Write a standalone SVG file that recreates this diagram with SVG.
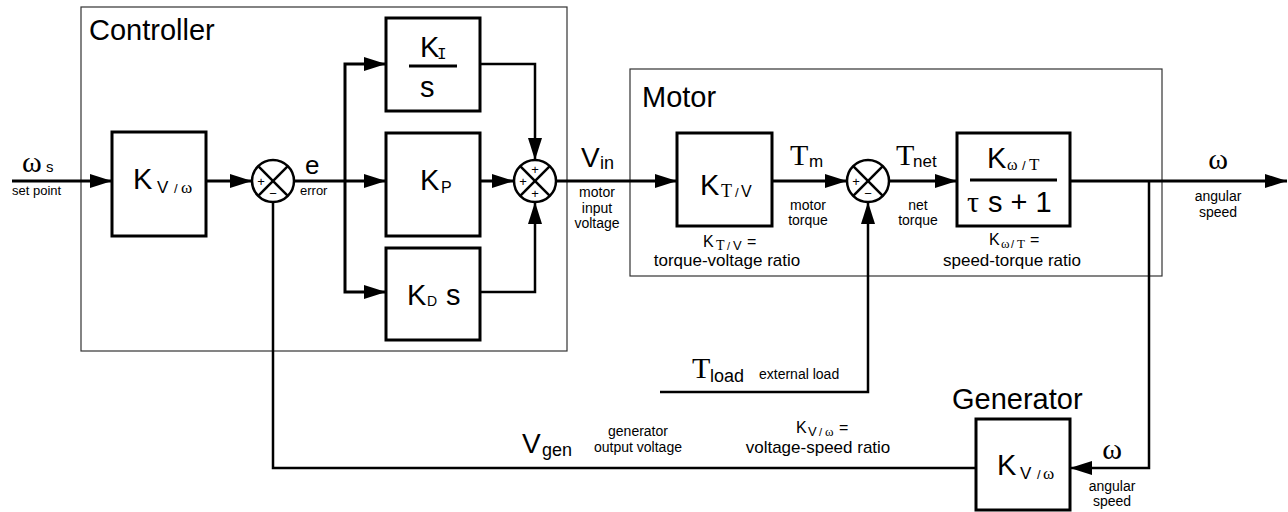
<svg xmlns="http://www.w3.org/2000/svg" width="1288" height="512" viewBox="0 0 1288 512">
<defs>
<style>
text{font-family:"Liberation Sans",Arial,sans-serif;fill:#000}
.ser{font-family:"Liberation Serif","Times New Roman",serif}
.mono{font-family:"Liberation Mono","Courier New",monospace}
.title{font-size:29px}
.big{font-size:29px}
.sm{font-size:14px}
.xs{font-size:13px}
.mid{font-size:17px}
.blk{fill:#fff;stroke:#000;stroke-width:3}
.cont{fill:none;stroke:#333;stroke-width:1.2}
.sum{fill:#fff;stroke:#000;stroke-width:2.5}
.x{stroke:#000;stroke-width:2.5}
.w{fill:none;stroke:#000;stroke-width:3}
.w2{fill:none;stroke:#000;stroke-width:2.5}
.mid-t{text-anchor:middle}
</style>
<marker id="ah" markerUnits="userSpaceOnUse" markerWidth="22" markerHeight="14" refX="22" refY="7" orient="auto">
<path d="M0,0 L22,7 L0,14 z" fill="#000"/>
</marker>
</defs>

<g id="controller">
<rect class="cont" x="81" y="7" width="486" height="344"/>
<text class="title" x="89" y="40">Controller</text>
</g>
<g id="motor">
<rect class="cont" x="630" y="69" width="532" height="207"/>
<text class="title" x="642" y="107">Motor</text>
</g>

<g id="connectors">
<path class="w" d="M12,181 H112" marker-end="url(#ah)"/>
<path class="w" d="M206,181 H252" marker-end="url(#ah)"/>
<path class="w" d="M294,181 H386" marker-end="url(#ah)"/>
<path class="w" d="M345,181 V64 H386" marker-end="url(#ah)"/>
<path class="w" d="M345,181 V292 H386" marker-end="url(#ah)"/>
<path class="w2" d="M480,64 H535 V160" marker-end="url(#ah)"/>
<path class="w" d="M480,181 H514" marker-end="url(#ah)"/>
<path class="w2" d="M480,292 H535 V202" marker-end="url(#ah)"/>
<path class="w" d="M556,181 H677" marker-end="url(#ah)"/>
<path class="w" d="M772,181 H847" marker-end="url(#ah)"/>
<path class="w" d="M889,181 H957" marker-end="url(#ah)"/>
<path class="w" d="M1070,181 H1287" marker-end="url(#ah)"/>
<path class="w2" d="M1149,181 V468 H1070" marker-end="url(#ah)"/>
<path class="w2" d="M976,468 H273 V202"/>
<path class="w2" d="M660,392 H868 V202" marker-end="url(#ah)"/>
</g>

<g id="kv-controller">
<rect class="blk" x="112" y="132" width="94" height="104"/>
<text class="big" x="133" y="189">K</text>
<text x="157" y="193" font-size="17">V</text>
<text x="174" y="193" font-size="13">/</text>
<text class="ser" x="181" y="193" font-size="17">ω</text>
</g>

<g id="sum1">
<circle class="sum" cx="273" cy="181" r="21"/>
<line class="x" x1="258.2" y1="166.2" x2="287.8" y2="195.8"/>
<line class="x" x1="287.8" y1="166.2" x2="258.2" y2="195.8"/>
<text class="xs mid-t" x="261" y="186">+</text>
<text class="xs mid-t" x="273" y="198">−</text>
</g>

<g id="ki">
<rect class="blk" x="386" y="18" width="94" height="93"/>
<text class="big" x="420" y="57">K</text>
<text class="mono" x="437" y="59" font-size="16">I</text>
<line x1="409" y1="66" x2="457" y2="66" stroke="#000" stroke-width="3"/>
<text class="big" x="420" y="97">s</text>
</g>

<g id="kp">
<rect class="blk" x="386" y="133" width="94" height="103"/>
<text class="big" x="420" y="190">K</text>
<text x="441" y="193" font-size="16">P</text>
</g>

<g id="kd">
<rect class="blk" x="386" y="248" width="94" height="92"/>
<text class="big" x="407" y="305">K</text>
<text x="427" y="306" font-size="14">D</text>
<text class="big" x="446" y="305">s</text>
</g>

<g id="sum2">
<circle class="sum" cx="535" cy="181" r="21"/>
<line class="x" x1="520.2" y1="166.2" x2="549.8" y2="195.8"/>
<line class="x" x1="549.8" y1="166.2" x2="520.2" y2="195.8"/>
<text class="xs mid-t" x="535" y="174">+</text>
<text class="xs mid-t" x="523" y="186">+</text>
<text class="xs mid-t" x="535" y="198">+</text>
</g>

<g id="ktv">
<rect class="blk" x="677" y="133" width="95" height="93"/>
<text class="big" x="700" y="195">K</text>
<text class="ser" x="721" y="197" font-size="18">T</text>
<text x="735" y="197" font-size="13">/</text>
<text x="741" y="197" font-size="16">V</text>
</g>

<g id="sum3">
<circle class="sum" cx="868" cy="181" r="21"/>
<line class="x" x1="853.2" y1="166.2" x2="882.8" y2="195.8"/>
<line class="x" x1="882.8" y1="166.2" x2="853.2" y2="195.8"/>
<text class="xs mid-t" x="856" y="186">+</text>
<text class="xs mid-t" x="868" y="198">−</text>
</g>

<g id="kwt">
<rect class="blk" x="957" y="133" width="113" height="93"/>
<text class="big" x="987" y="168">K</text>
<text class="ser" x="1007" y="170" font-size="16">ω</text>
<text x="1022" y="170" font-size="13">/</text>
<text class="ser" x="1029" y="170" font-size="17">T</text>
<line x1="970" y1="180" x2="1057" y2="180" stroke="#000" stroke-width="3"/>
<text class="ser" x="967" y="212" font-size="30">τ</text>
<text class="big" x="988" y="212">s + 1</text>
</g>

<g id="generator">
<text class="title" x="952" y="409">Generator</text>
<rect class="blk" x="976" y="419" width="94" height="91"/>
<text class="big" x="997" y="475">K</text>
<text x="1020" y="479" font-size="17">V</text>
<text x="1037" y="479" font-size="13">/</text>
<text class="ser" x="1043" y="479" font-size="17">ω</text>
</g>

<g id="labels">
<text class="ser" x="22" y="172" font-size="30">ω</text>
<text x="46" y="172" font-size="15">s</text>
<text class="xs" x="12" y="195">set point</text>

<text x="305" y="174" font-size="26">e</text>
<text class="xs" x="300" y="195">error</text>

<text x="581" y="167" font-size="28">V</text>
<text x="600" y="169" font-size="18">in</text>
<text class="sm mid-t" x="597" y="197">motor</text>
<text class="sm mid-t" x="597" y="213">input</text>
<text class="sm mid-t" x="597" y="228">voltage</text>

<text class="ser" x="790" y="165" font-size="30">T</text>
<text x="809" y="167" font-size="17">m</text>
<text class="sm mid-t" x="808" y="210">motor</text>
<text class="sm mid-t" x="808" y="225">torque</text>

<text class="ser" x="896" y="165" font-size="30">T</text>
<text x="913" y="167" font-size="17">net</text>
<text class="sm mid-t" x="918" y="210">net</text>
<text class="sm mid-t" x="918" y="225">torque</text>

<text x="703" y="247" font-size="16">K</text>
<text class="ser" x="716" y="250" font-size="14">T</text>
<text x="727" y="250" font-size="11">/</text>
<text x="733" y="250" font-size="13">V</text>
<text x="747" y="247" font-size="16">=</text>
<text class="mid mid-t" x="727" y="266">torque-voltage ratio</text>

<text x="989" y="245" font-size="16">K</text>
<text class="ser" x="1001" y="248" font-size="13">ω</text>
<text x="1011" y="248" font-size="11">/</text>
<text class="ser" x="1017" y="248" font-size="13">T</text>
<text x="1030" y="245" font-size="16">=</text>
<text class="mid mid-t" x="1012" y="266">speed-torque ratio</text>

<text class="ser mid-t" x="1218" y="169" font-size="30">ω</text>
<text class="sm mid-t" x="1218" y="201">angular</text>
<text class="sm mid-t" x="1218" y="217">speed</text>

<text class="ser mid-t" x="1112" y="459" font-size="30">ω</text>
<text class="sm mid-t" x="1112" y="491">angular</text>
<text class="sm mid-t" x="1112" y="506">speed</text>

<text class="ser" x="692" y="378" font-size="30">T</text>
<text x="710" y="382" font-size="18">load</text>
<text class="sm" x="759" y="379">external load</text>

<text x="522" y="453" font-size="28">V</text>
<text x="542" y="456" font-size="18">gen</text>
<text class="sm mid-t" x="638" y="436">generator</text>
<text class="sm mid-t" x="638" y="452">output voltage</text>

<text x="796" y="433" font-size="16">K</text>
<text x="808" y="436" font-size="13">V</text>
<text x="819" y="436" font-size="11">/</text>
<text class="ser" x="825" y="436" font-size="13">ω</text>
<text x="839" y="433" font-size="16">=</text>
<text class="mid mid-t" x="818" y="453">voltage-speed ratio</text>
</g>
</svg>
